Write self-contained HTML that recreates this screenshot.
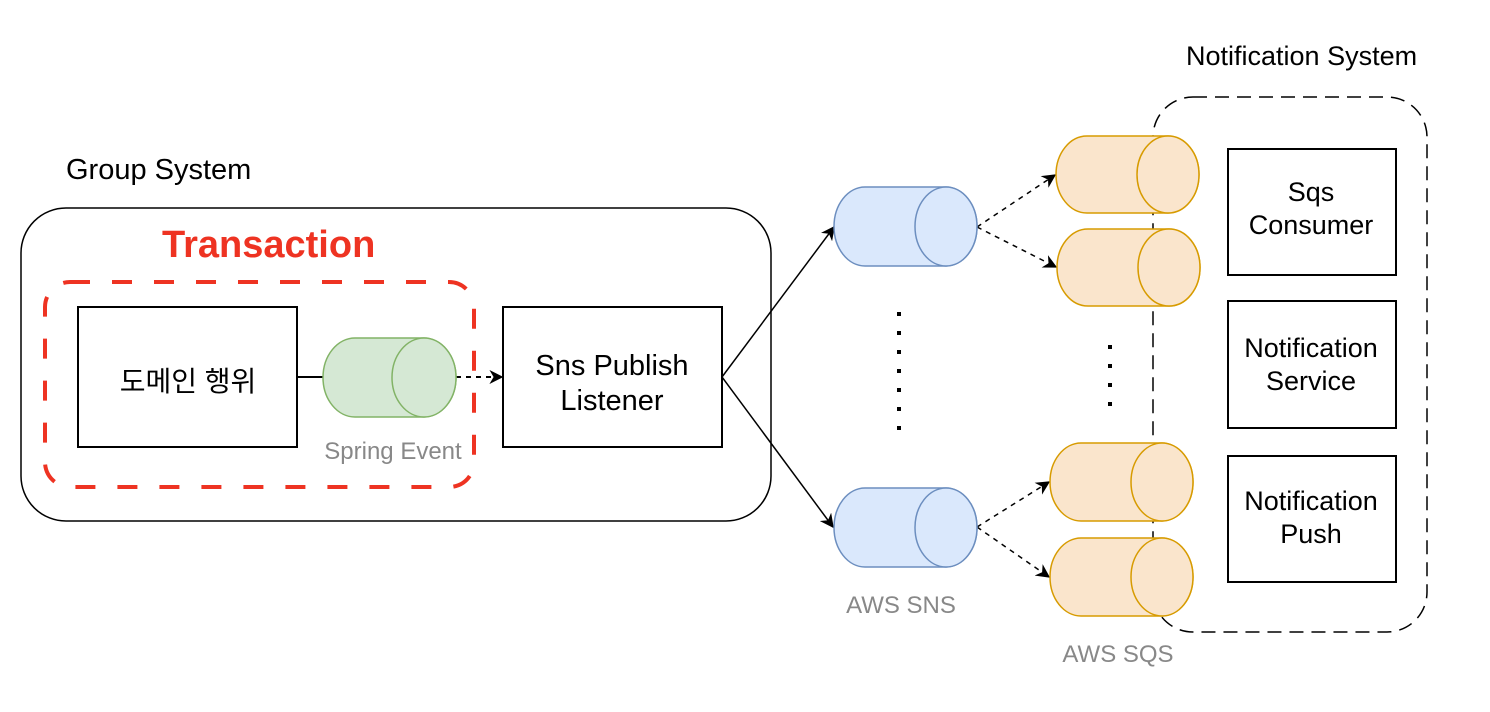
<!DOCTYPE html>
<html><head><meta charset="utf-8"><style>body{margin:0;background:#fff}svg{display:block}</style></head><body>
<svg width="1490" height="712" xmlns="http://www.w3.org/2000/svg" font-family="Liberation Sans, Noto Sans CJK KR, sans-serif">
<defs><marker id="a" viewBox="0 0 10 10" refX="9" refY="5" markerWidth="14" markerHeight="14" orient="auto" markerUnits="userSpaceOnUse"><path d="M0,0 L10,5 L0,10 L3,5 Z" fill="#000"/></marker></defs>
<rect x="21" y="208" width="750" height="313" rx="45" fill="none" stroke="#000" stroke-width="1.5"/>
<rect x="1153" y="97" width="274" height="535" rx="40" fill="none" stroke="#000" stroke-width="1.5" stroke-dasharray="14,8"/>
<rect x="45" y="282" width="429" height="205" rx="25" fill="none" stroke="#ee3322" stroke-width="4" stroke-dasharray="20,22"/>
<text x="66" y="179" font-size="29">Group System</text>
<text x="1186" y="65" font-size="27">Notification System</text>
<text x="162" y="257" font-size="38" font-weight="bold" fill="#ee3322">Transaction</text>
<rect x="78" y="307" width="219" height="140" fill="#fff" stroke="#000" stroke-width="2"/>
<text x="188" y="391" font-size="28" text-anchor="middle">도메인 행위</text>
<rect x="503" y="307" width="219" height="140" fill="#fff" stroke="#000" stroke-width="2"/>
<text x="612" y="375" font-size="29" text-anchor="middle">Sns Publish</text>
<text x="612" y="410" font-size="29" text-anchor="middle">Listener</text>
<g fill="#fff" stroke="#000" stroke-width="2"><rect x="1228" y="149" width="168" height="126"/><rect x="1228" y="301" width="168" height="127"/><rect x="1228" y="456" width="168" height="126"/></g>
<g font-size="27" text-anchor="middle"><text x="1311" y="201">Sqs</text><text x="1311" y="234">Consumer</text><text x="1311" y="357">Notification</text><text x="1311" y="390">Service</text><text x="1311" y="510">Notification</text><text x="1311" y="543">Push</text></g>
<line x1="297" y1="377" x2="323" y2="377" stroke="#000" stroke-width="2"/>
<line x1="456" y1="377" x2="502" y2="377" stroke="#000" stroke-width="2" stroke-dasharray="5,5" marker-end="url(#a)"/>
<line x1="722" y1="377" x2="834" y2="227" stroke="#000" stroke-width="1.5" marker-end="url(#a)"/>
<line x1="722" y1="377" x2="833" y2="527" stroke="#000" stroke-width="1.5" marker-end="url(#a)"/>
<g stroke="#000" stroke-width="1.5" stroke-dasharray="5,5" marker-end="url(#a)">
<line x1="977" y1="227" x2="1055" y2="175"/><line x1="977" y1="227" x2="1056" y2="267"/>
<line x1="977" y1="527" x2="1049" y2="482"/><line x1="977" y1="527" x2="1049" y2="577"/></g>
<g stroke="#000" stroke-width="4" stroke-dasharray="4,15"><line x1="899" y1="312" x2="899" y2="436"/><line x1="1110" y1="345" x2="1110" y2="420"/></g>
<g stroke-width="1.5">
<g fill="#d5e8d4" stroke="#82b366"><path d="M355,338 H424 A32,39.5 0 0 1 424,417 H355 A32,39.5 0 0 1 355,338 Z"/><ellipse cx="424" cy="377.5" rx="32" ry="39.5"/></g>
<g fill="#dae8fc" stroke="#6c8ebf"><path d="M865,187 H946 A31,39.5 0 0 1 946,266 H865 A31,39.5 0 0 1 865,187 Z"/><ellipse cx="946" cy="226.5" rx="31" ry="39.5"/>
<path d="M865,488 H946 A31,39.5 0 0 1 946,567 H865 A31,39.5 0 0 1 865,488 Z"/><ellipse cx="946" cy="527.5" rx="31" ry="39.5"/></g>
<g fill="#fae5cc" stroke="#d79b00"><path d="M1087,136 H1168 A31,38.5 0 0 1 1168,213 H1087 A31,38.5 0 0 1 1087,136 Z"/><ellipse cx="1168" cy="174.5" rx="31" ry="38.5"/>
<path d="M1088,229 H1169 A31,38.5 0 0 1 1169,306 H1088 A31,38.5 0 0 1 1088,229 Z"/><ellipse cx="1169" cy="267.5" rx="31" ry="38.5"/>
<path d="M1081,443 H1162 A31,39 0 0 1 1162,521 H1081 A31,39 0 0 1 1081,443 Z"/><ellipse cx="1162" cy="482" rx="31" ry="39"/>
<path d="M1081,538 H1162 A31,39 0 0 1 1162,616 H1081 A31,39 0 0 1 1081,538 Z"/><ellipse cx="1162" cy="577" rx="31" ry="39"/></g>
</g>
<g fill="#888" font-size="24" text-anchor="middle"><text x="393" y="459">Spring Event</text><text x="901" y="613">AWS SNS</text><text x="1118" y="662">AWS SQS</text></g>
</svg>
</body></html>
